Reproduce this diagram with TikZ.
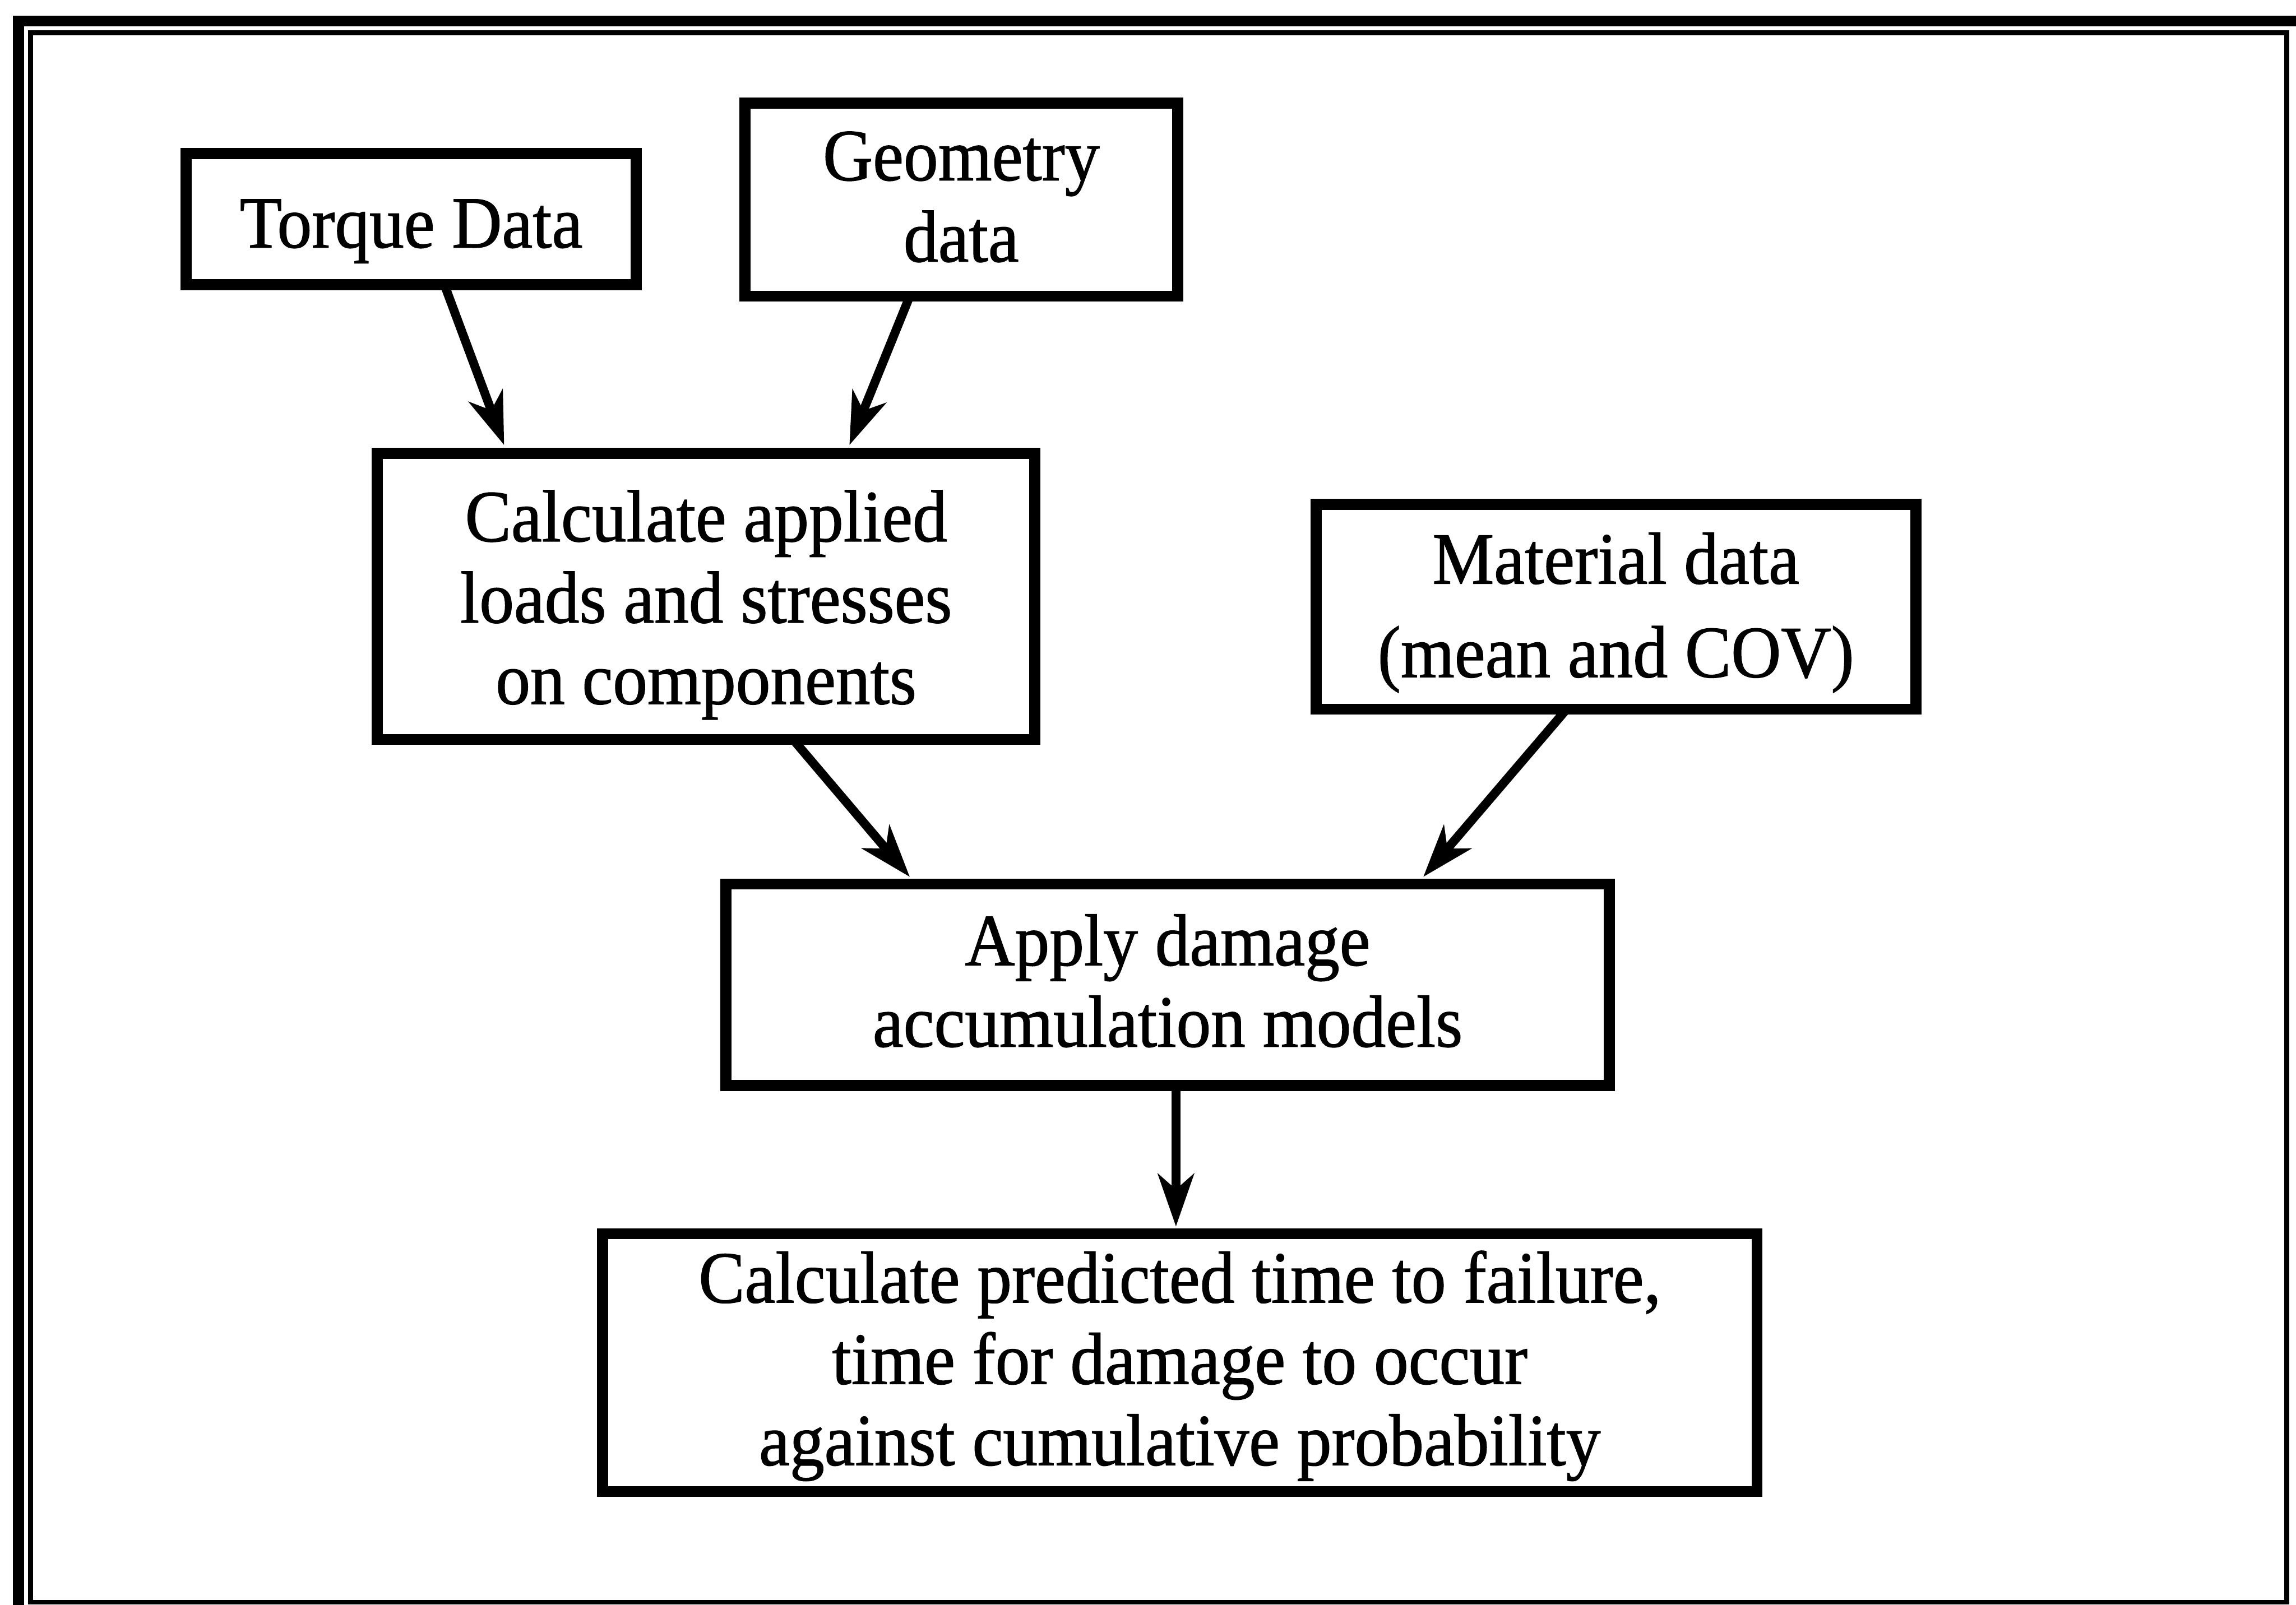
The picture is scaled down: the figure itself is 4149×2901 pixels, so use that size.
\documentclass[tikz,border=0pt]{standalone}
\usepackage{fontspec}
\setmainfont{Liberation Serif}[FakeStretch=0.94,FakeBold=1]
\usetikzlibrary{arrows.meta}
% centred lines, nudged down inside their box without changing its size
\newcommand\lowerlines[2][1.5pt]{\raisebox{-#1}[\height][\depth]{\begin{tabular}{@{}c@{}}#2\end{tabular}}}
\begin{document}
\begin{tikzpicture}[x=0.1pt,y=-0.1pt,
  box/.style={draw, line width=2pt, inner sep=0pt,
    font=\fontsize{13.3pt}{14.7pt}\selectfont},
  flow/.style={line width=1.6pt, -{Stealth[length=9.5pt,width=6.5pt,inset=2.8pt]}},
  frameout/.style={line width=2pt},
  framein/.style={line width=0.9pt}]
\useasboundingbox (0,0) rectangle (4149,2901);
% double page frame
\draw[frameout] (33.5,2950) -- (33.5,38) -- (4200,38);
\draw[framein] (55,59) rectangle (4132,2896);
% process boxes
\node[box, minimum width=81.3pt, minimum height=23.7pt] (torque) at (743,396)
  {\lowerlines[2.2pt]{Torque Data}};
\node[box, minimum width=78.2pt, minimum height=34.9pt] (geom) at (1737,361)
  {\lowerlines[0.9pt]{Geometry\\data}};
\node[box, minimum width=118.8pt, minimum height=51.7pt] (loads) at (1276,1078)
  {\lowerlines[1.8pt]{Calculate applied\\loads and stresses\\on components}};
\node[box, minimum width=108.4pt, minimum height=37pt] (mat) at (2920,1097)
  {\lowerlines[1.3pt]{Material data\\[2.2pt](mean and COV)}};
\node[box, minimum width=159.6pt, minimum height=36.4pt] (damage) at (2110,1780)
  {\lowerlines[0.9pt]{Apply damage\\accumulation models}};
\node[box, minimum width=208.6pt, minimum height=46.6pt] (life) at (2132,2463)
  {\lowerlines[0.9pt]{Calculate predicted time to failure,\\time for damage to occur\\against cumulative probability}};
% connectors
\draw[flow] ([xshift=6pt,yshift=1pt]torque.south) -- ([xshift=-36.5pt,yshift=0.5pt]loads.north);
\draw[flow] ([xshift=-9.3pt,yshift=1pt]geom.south) -- ([xshift=25.9pt,yshift=0.5pt]loads.north);
\draw[flow] ([xshift=15.7pt,yshift=1pt]loads.south) -- ([xshift=-46.6pt,yshift=0.3pt]damage.north);
\draw[flow] ([xshift=-8.9pt,yshift=1pt]mat.south) -- ([xshift=46.2pt,yshift=0.3pt]damage.north);
\draw[flow] ([xshift=1.5pt,yshift=1pt]damage.south) -- ([xshift=1.5pt,yshift=0.3pt]damage.south |- life.north);
\end{tikzpicture}
\end{document}
